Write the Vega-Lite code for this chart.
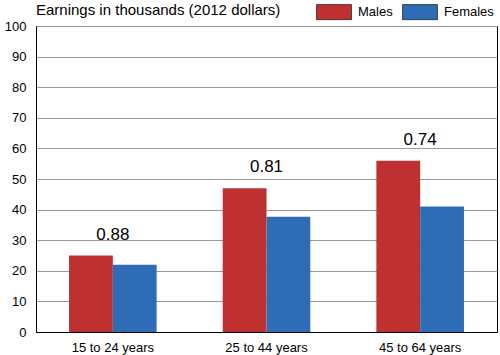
{
  "$schema": "https://vega.github.io/schema/vega-lite/v6.json",
  "width": 500,
  "height": 355,
  "autosize": {"type": "fit", "contains": "padding"},
  "padding": {"left": 4, "top": 3, "right": 3, "bottom": 1},
  "background": "white",
  "config": {
    "font": "Liberation Sans",
    "view": {"stroke": "black", "strokeWidth": 1}
  },
  "title": {
    "text": "Earnings in thousands (2012 dollars)",
    "anchor": "start",
    "frame": "group",
    "fontSize": 15,
    "fontWeight": "normal",
    "color": "black",
    "offset": 2
  },
  "data": {
    "values": [
      {"age": "15 to 24 years", "sex": "Males", "earnings": 25, "ratio": 0.88},
      {"age": "15 to 24 years", "sex": "Females", "earnings": 22},
      {"age": "25 to 44 years", "sex": "Males", "earnings": 47, "ratio": 0.81},
      {"age": "25 to 44 years", "sex": "Females", "earnings": 37.7},
      {"age": "45 to 64 years", "sex": "Males", "earnings": 56, "ratio": 0.74},
      {"age": "45 to 64 years", "sex": "Females", "earnings": 41}
    ]
  },
  "encoding": {
    "x": {
      "field": "age",
      "type": "nominal",
      "title": null,
      "scale": {"paddingInner": 0.43, "paddingOuter": 0.215},
      "axis": {"labelAngle": 0, "labelFontSize": 13, "labelColor": "black", "ticks": false, "domainColor": "black", "labelPadding": 9}
    },
    "y": {
      "field": "earnings",
      "type": "quantitative",
      "title": null,
      "scale": {"domain": [0, 100]},
      "axis": {"values": [0, 10, 20, 30, 40, 50, 60, 70, 80, 90, 100], "labelFontSize": 13, "labelColor": "black", "ticks": false, "domainColor": "black", "gridColor": "#9a9a9a", "gridOpacity": 1, "labelPadding": 10}
    }
  },
  "layer": [
    {
      "mark": {"type": "bar"},
      "encoding": {
        "xOffset": {"field": "sex", "type": "nominal", "sort": ["Males", "Females"], "scale": {"paddingInner": 0}},
        "color": {
          "field": "sex",
          "type": "nominal",
          "sort": ["Males", "Females"],
          "scale": {"domain": ["Males", "Females"], "range": ["#BF3131", "#2E6DB6"]},
          "legend": {
            "title": null,
            "orient": "none",
            "legendX": 280,
            "legendY": -32,
            "direction": "horizontal",
            "columnPadding": 8,
            "symbolType": "M-1,-0.43H1V0.43H-1Z",
            "symbolSize": 1225,
            "symbolStrokeColor": "black",
            "symbolStrokeWidth": 0.6,
            "symbolOpacity": 1,
            "labelFontSize": 13,
            "labelColor": "black",
            "labelOffset": 6
          }
        }
      }
    },
    {
      "transform": [{"filter": "datum.sex === 'Males'"}],
      "mark": {"type": "text", "fontSize": 17, "baseline": "middle", "dy": -21, "color": "black"},
      "encoding": {
        "text": {"field": "ratio", "type": "quantitative", "format": ".2f"}
      }
    }
  ]
}
